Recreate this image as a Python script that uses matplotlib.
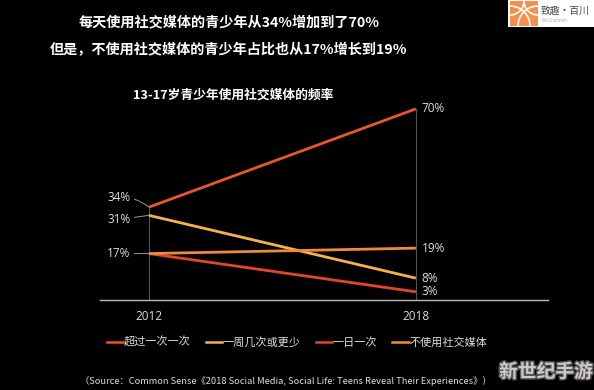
import matplotlib
matplotlib.use("Agg")
import matplotlib.pyplot as plt
from matplotlib.lines import Line2D
from matplotlib.patches import Rectangle, Arc
import matplotlib.patheffects as pe

plt.rcParams['font.family'] = ['Noto Sans CJK SC', 'DejaVu Sans']
NUMFONT = ['Open Sans', 'DejaVu Sans']

years = [2012, 2018]
series_names = ["超过一次一次", "一周几次或更少", "一日一次", "不使用社交媒体"]
series_values = [[34, 70], [31, 8], [17, 3], [17, 19]]
colors = ["#e8562c", "#f2b44a", "#e2462a", "#ef8a3c"]
left_labels = [34, 31, 17]
right_labels = [70, 19, 8, 3]

fig = plt.figure(figsize=(5.94, 3.90), dpi=100)
fig.patch.set_facecolor("black")
ax = fig.add_axes([100/594, 1-300/390, 448/594, 196.6/390])
ax.set_facecolor("black")
ax.set_xlim(2010.9, 2020.97)
ax.set_ylim(0, 72)

# vertical guide lines
for i, yr in enumerate(years):
    top = max(v[i] for v in series_values)
    ax.plot([yr, yr], [0, top], color="#555555", lw=0.8, zorder=1)

for name, vals, c in zip(series_names, series_values, colors):
    ax.plot(years, vals, color=c, lw=2.0, solid_capstyle="butt", zorder=3)

for s in ["left", "right", "top"]:
    ax.spines[s].set_visible(False)
ax.spines["bottom"].set_color("#bbbbbb")
ax.spines["bottom"].set_linewidth(1.0)
ax.set_yticks([])
ax.set_xticks(years)
ax.set_xticklabels([str(y) for y in years], color="#dddddd", fontsize=8.5, family=NUMFONT)
ax.tick_params(axis="x", length=0, pad=7)

# left labels with leader lines
offsets = {34: 3.5, 31: -1.5, 17: 0}
for v in left_labels:
    ty = v + offsets[v]
    ax.annotate(f"{v}%", xy=(years[0], v), xytext=(years[0] - 0.42, ty),
                color="#dddddd", fontsize=8.5, ha="right", va="center", family=NUMFONT,
                arrowprops=dict(arrowstyle="-", color="#999999", lw=0.7,
                                shrinkA=1, shrinkB=0,
                                connectionstyle="arc3,rad=-0.2" if v == 34 else "arc3,rad=0"))
for v in right_labels:
    ax.text(years[1] + 0.13, v, f"{v}%", color="#dddddd", fontsize=8.5,
            ha="left", va="center", family=NUMFONT)

# titles
fig.text(229/594, 1-22/390, "每天使用社交媒体的青少年从34%增加到了70%", color="white",
         fontsize=10.2, fontweight="bold", ha="center", va="center")
fig.text(229/594, 1-50/390, "但是，不使用社交媒体的青少年占比也从17%增长到19%", color="white",
         fontsize=10.2, fontweight="bold", ha="center", va="center")
fig.text(233/594, 1-95/390, "13-17岁青少年使用社交媒体的频率", color="white",
         fontsize=9.2, fontweight="bold", ha="center", va="center")

# legend
handles = [Line2D([0], [0], color=c, lw=1.8) for c in colors]
leg = fig.legend(handles, series_names, loc="center", bbox_to_anchor=(297/594, 1-342/390),
                 ncol=4, frameon=False, fontsize=8, handlelength=1.5, handletextpad=0.05,
                 columnspacing=1.35, labelcolor="#dddddd")

fig.text(80/594, 1-381/390,
         "（Source：Common Sense《2018 Social Media, Social Life: Teens Reveal Their Experiences》）",
         color="#dddddd", fontsize=6.7, ha="left", va="center")

# top-right logo
fig.patches.append(Rectangle((508/594, 1-27/390), 86/594, 27/390, transform=fig.transFigure,
                             facecolor="white", edgecolor="none"))
orange = Rectangle((510/594, 1-26/390), 28/594, 25/390, transform=fig.transFigure,
                   facecolor="#f3904e", edgecolor="none")
fig.patches.append(orange)
for cx, cy, r in [(510, 26, 20), (538, 26, 20), (510, 1, 14), (538, 1, 14)]:
    a = Arc((cx/594, 1-cy/390), 2*r/594, 2*r/390, transform=fig.transFigure,
            color="white", lw=1.2)
    a.set_clip_path(orange)
    fig.patches.append(a)
fig.text(541/594, 1-11/390, "致趣·百川", color="#444444", fontsize=7, ha="left", va="center")
fig.text(541/594, 1-21/390, "BesChannels", color="#aaaaaa", fontsize=3.2, ha="left", va="center")

# bottom-right watermark
fig.text(546/594, 1-372/390, "新世纪手游", color="#cfc9cc", fontsize=13.5, fontweight="bold",
         ha="center", va="center",
         path_effects=[pe.withStroke(linewidth=2, foreground="#555555")])

fig.savefig("out.png", dpi=100, facecolor="black")
